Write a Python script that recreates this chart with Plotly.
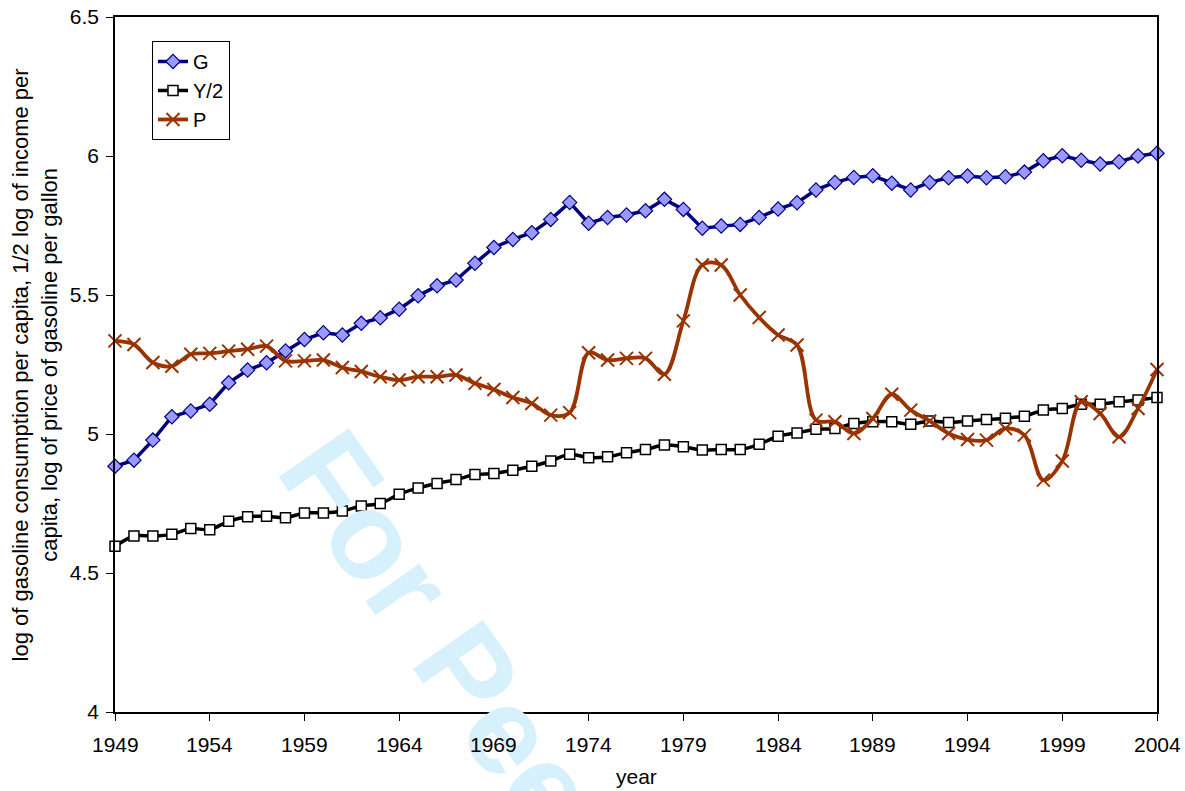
import plotly.graph_objects as go

years = list(range(1949, 2005))

G = [4.884, 4.906, 4.978, 5.062, 5.083, 5.107, 5.184, 5.230, 5.256, 5.299,
     5.340, 5.364, 5.356, 5.398, 5.418, 5.449, 5.497, 5.533, 5.554, 5.614,
     5.671, 5.700, 5.724, 5.772, 5.833, 5.758, 5.779, 5.788, 5.803, 5.844,
     5.808, 5.740, 5.748, 5.754, 5.779, 5.809, 5.832, 5.878, 5.905, 5.923,
     5.929, 5.902, 5.878, 5.905, 5.922, 5.928, 5.922, 5.925, 5.942, 5.983,
     6.001, 5.985, 5.971, 5.979, 6.000, 6.010]

Y_half = [4.596, 4.633, 4.633, 4.639, 4.660, 4.656, 4.686, 4.702, 4.704, 4.699,
          4.716, 4.716, 4.723, 4.741, 4.750, 4.783, 4.806, 4.822, 4.836, 4.854,
          4.858, 4.870, 4.884, 4.903, 4.927, 4.915, 4.918, 4.933, 4.944, 4.960,
          4.954, 4.942, 4.944, 4.944, 4.963, 4.992, 5.004, 5.017, 5.020, 5.038,
          5.044, 5.044, 5.035, 5.047, 5.041, 5.047, 5.052, 5.057, 5.064, 5.086,
          5.092, 5.107, 5.107, 5.116, 5.122, 5.131]

P = [5.335, 5.322, 5.257, 5.244, 5.287, 5.290, 5.298, 5.305, 5.316, 5.263,
     5.263, 5.266, 5.239, 5.225, 5.206, 5.194, 5.206, 5.206, 5.212, 5.182,
     5.160, 5.131, 5.110, 5.068, 5.077, 5.292, 5.266, 5.272, 5.272, 5.215,
     5.407, 5.608, 5.608, 5.500, 5.419, 5.356, 5.320, 5.050, 5.044, 5.002,
     5.056, 5.143, 5.086, 5.047, 5.002, 4.980, 4.978, 5.020, 4.996, 4.834,
     4.903, 5.116, 5.074, 4.990, 5.092, 5.232]

x_ticks = list(range(1949, 2005, 5))
x_tick_labels = [str(v) for v in x_ticks]
y_ticks = [4, 4.5, 5, 5.5, 6, 6.5]

x_title = "year"
y_title = ("log of gasoline consumption per capita, 1/2 log of income per<br>"
           "capita, log of price of gasoline per gallon")
watermark = "For Peer Review"

FONT = "Liberation Sans, Arial, sans-serif"
FS = 21

fig = go.Figure()
fig.add_trace(go.Scatter(
    x=years, y=G, name="G", mode="lines+markers", cliponaxis=False,
    line=dict(color="#000080", width=3.5),
    marker=dict(symbol="diamond", size=11, color="#9999FF",
                line=dict(color="#000080", width=1.2))))
fig.add_trace(go.Scatter(
    x=years, y=Y_half, name="Y/2", mode="lines+markers", cliponaxis=False,
    line=dict(color="#000000", width=3.5, shape="spline", smoothing=0.8),
    marker=dict(symbol="square", size=10, color="#FFFFFF",
                line=dict(color="#000000", width=1.5))))
fig.add_trace(go.Scatter(
    x=years, y=P, name="P", mode="lines+markers", cliponaxis=False,
    line=dict(color="#993300", width=3.8, shape="spline", smoothing=1.0),
    marker=dict(symbol="x-thin", size=13, color="#993300",
                line=dict(color="#993300", width=2))))

annotations = [dict(
    text="<b>%s</b>" % watermark, xref="paper", yref="paper",
    x=0.452, y=-0.186, xanchor="center", yanchor="middle",
    textangle=55, showarrow=False,
    font=dict(family=FONT, size=124, color="rgb(214,240,252)"))]

for v, lab in zip(x_ticks, x_tick_labels):
    annotations.append(dict(
        text=lab, xref="x", yref="paper", x=v, y=0, yshift=-32,
        xanchor="center", yanchor="middle", showarrow=False,
        font=dict(family=FONT, size=FS, color="black")))

annotations.append(dict(
    text=x_title, xref="paper", yref="paper", x=0.5, y=0, yshift=-64,
    xanchor="center", yanchor="middle", showarrow=False,
    font=dict(family=FONT, size=FS, color="black")))

annotations.append(dict(
    text=y_title, xref="paper", yref="paper", x=-0.0768, y=0.5,
    xanchor="center", yanchor="middle", textangle=-90, showarrow=False,
    font=dict(family=FONT, size=22, color="black")))

fig.update_layout(
    width=1185, height=791,
    margin=dict(l=115, r=28, t=17, b=79),
    paper_bgcolor="white", plot_bgcolor="white",
    font=dict(family=FONT, size=FS, color="black"),
    showlegend=True,
    legend=dict(x=0.0355, y=0.9655, xanchor="left", yanchor="top",
                bordercolor="black", borderwidth=1, bgcolor="white",
                font=dict(size=20), tracegroupgap=0, itemwidth=30),
    xaxis=dict(range=[1949, 2004], tickvals=x_ticks, ticks="outside", ticklen=7,
               showticklabels=False, automargin=False,
               showgrid=False, zeroline=False, showline=True, linecolor="black",
               linewidth=1.5, mirror=True, tickcolor="black"),
    yaxis=dict(range=[4, 6.5], tickvals=y_ticks, ticks="outside", ticklen=7,
               ticklabelstandoff=3, automargin=False,
               showgrid=False, zeroline=False, showline=True, linecolor="black",
               linewidth=1.5, mirror=True, tickcolor="black"),
    annotations=annotations,
)

# remove the default 8px page margin so the figure fills the window exactly
fig.write_html("out.html", config={"displayModeBar": False},
               post_script="document.body.style.margin='0';")
